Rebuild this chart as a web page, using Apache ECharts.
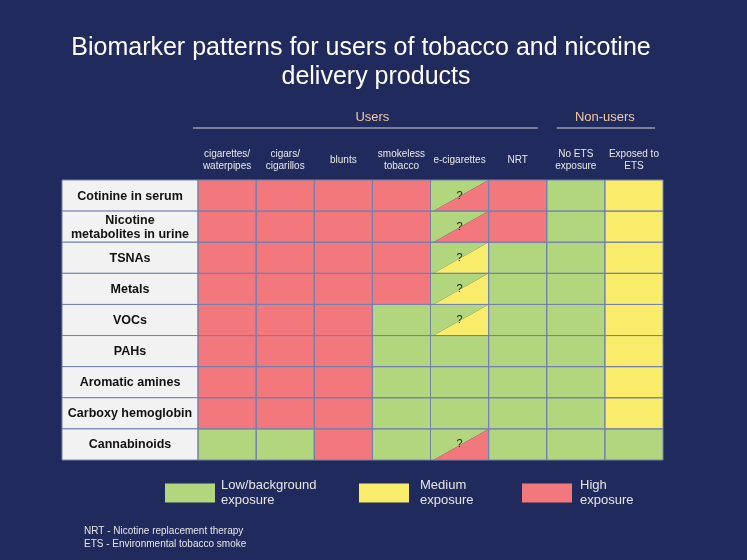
<!DOCTYPE html>
<html>
<head>
<meta charset="utf-8">
<title>Biomarker patterns</title>
<script src="https://cdn.jsdelivr.net/npm/echarts@6/dist/echarts.min.js"></script>
<style>
  html, body { margin: 0; padding: 0; background: #202a5c; }
  #chart { width: 747px; height: 560px; }
</style>
</head>
<body>
<div id="chart"></div>
<script>
// rows of the table (biomarkers)
const rowLabels = ['Cotinine in serum', 'Nicotine\nmetabolites in urine', 'TSNAs', 'Metals', 'VOCs',
  'PAHs', 'Aromatic amines', 'Carboxy hemoglobin', 'Cannabinoids']
// columns (product users / non-users)
const columnLabels = ['cigarettes/\nwaterpipes', 'cigars/\ncigarillos', 'blunts', 'smokeless\ntobacco',
  'e-cigarettes', 'NRT', 'No ETS\nexposure', 'Exposed to\nETS']
const levelCodes = ['L', 'M', 'H']
const levelNames = ['Low/background\nexposure', 'Medium\nexposure', 'High\nexposure']
const levelColors = ['#b1d67e', '#f9ec6b', '#f2787d']
// one code per cell, 'L/H' = uncertain cell (split, marked with ?)
const exposure = [
  ['H', 'H', 'H', 'H', 'L/H', 'H', 'L', 'M'],
  ['H', 'H', 'H', 'H', 'L/H', 'H', 'L', 'M'],
  ['H', 'H', 'H', 'H', 'L/M', 'L', 'L', 'M'],
  ['H', 'H', 'H', 'H', 'L/M', 'L', 'L', 'M'],
  ['H', 'H', 'H', 'L', 'L/M', 'L', 'L', 'M'],
  ['H', 'H', 'H', 'L', 'L', 'L', 'L', 'M'],
  ['H', 'H', 'H', 'L', 'L', 'L', 'L', 'M'],
  ['H', 'H', 'H', 'L', 'L', 'L', 'L', 'M'],
  ['L', 'L', 'H', 'L', 'L/H', 'L', 'L', 'L']
]
const titleLines = ['Biomarker patterns for users of tobacco and nicotine', 'delivery products']
const groupLabels = ['Users', 'Non-users']
const groupSpans = [[0, 5], [6, 7]]
const footnotes = ['NRT - Nicotine replacement therapy', 'ETS - Environmental tobacco smoke']

const font = 'Liberation Sans, Arial, sans-serif'
const lineColor = '#7481b0'

// split each cell into level pieces: 0 = whole cell, 1 = upper-left half, 2 = lower-right half
const levelData = levelCodes.map(() => [])
const frameData = []
const labelData = []
exposure.forEach(function(row, r) {
  labelData.push([0, r])
  row.forEach(function(code, c) {
    frameData.push([c, r])
    const parts = code.split('/')
    if (parts.length === 1) {
      levelData[levelCodes.indexOf(code)].push([c, r, 0])
    } else {
      levelData[levelCodes.indexOf(parts[0])].push([c, r, 1])
      levelData[levelCodes.indexOf(parts[1])].push([c, r, 2])
    }
  })
})

function cellBox(api) {
  const p = api.coord([api.value(0), api.value(1)])
  const s = api.size([1, 1])
  return { x0: p[0] - s[0] / 2, y0: p[1] - s[1] / 2, w: s[0], h: s[1], cx: p[0], cy: p[1] }
}

function renderCell(params, api) {
  const b = cellBox(api)
  const part = api.value(2)
  const fill = api.visual('color')
  const x1 = b.x0 + b.w
  const y1 = b.y0 + b.h
  if (part === 0) {
    return { type: 'rect', shape: { x: b.x0, y: b.y0, width: b.w, height: b.h }, style: { fill: fill } }
  }
  const pts = part === 1
    ? [[b.x0, b.y0], [x1, b.y0], [b.x0 + 3, y1], [b.x0, y1]]
    : [[b.x0 + 3, y1], [x1, b.y0], [x1, y1]]
  const children = [{ type: 'polygon', shape: { points: pts }, style: { fill: fill } }]
  if (part === 2) {
    children.push({
      type: 'text', z2: 5,
      style: { text: '?', x: b.cx, y: b.cy, align: 'center', verticalAlign: 'middle',
        font: '11px ' + font, fill: '#222' }
    })
  }
  return { type: 'group', children: children }
}

function renderFrame(params, api) {
  const b = cellBox(api)
  return { type: 'rect', shape: { x: b.x0, y: b.y0, width: b.w, height: b.h },
    style: { fill: 'none', stroke: lineColor, lineWidth: 1 } }
}

function renderLabel(params, api) {
  const b = cellBox(api)
  return {
    type: 'group',
    children: [
      { type: 'rect', shape: { x: b.x0, y: b.y0, width: b.w, height: b.h },
        style: { fill: '#f2f2f2', stroke: lineColor, lineWidth: 1 } },
      { type: 'text', style: { text: rowLabels[api.value(1)], x: b.cx, y: b.cy + 0.5, align: 'center',
        verticalAlign: 'middle', font: 'bold 12.5px ' + font, lineHeight: 14, fill: '#111' } }
    ]
  }
}

const legendPad = [1, 6, 3]
const legendLeft = [165, 359, 522]
const titleCenter = [361, 376]

const chart = echarts.init(document.getElementById('chart'))
const series = levelNames.map(function(name, i) {
  return {
    name: name, type: 'custom', xAxisIndex: 1, yAxisIndex: 1,
    renderItem: renderCell, itemStyle: { color: levelColors[i] },
    data: levelData[i], silent: true
  }
})
series.push({ name: 'frame', type: 'custom', xAxisIndex: 1, yAxisIndex: 1, z: 3,
  renderItem: renderFrame, data: frameData, silent: true })
series.push({ name: 'labels', type: 'custom', xAxisIndex: 0, yAxisIndex: 0,
  renderItem: renderLabel, data: labelData, silent: true })

chart.setOption({
  backgroundColor: '#202a5c',
  animation: false,
  title: titleLines.map(function(line, i) {
    return {
      text: line, left: titleCenter[i], top: 33 + i * 29, textAlign: 'center', padding: 0,
      textStyle: { color: '#fff', fontSize: 25, fontWeight: 'normal', lineHeight: 30, fontFamily: font }
    }
  }),
  legend: levelNames.map(function(name, i) {
    return {
      data: [name], left: legendLeft[i], top: 478, padding: 0, icon: 'rect', itemWidth: 50, itemHeight: 19,
      selectedMode: false,
      textStyle: { color: '#e6e6e6', fontSize: 13, lineHeight: 15, fontFamily: font,
        padding: [0, 0, 0, legendPad[i]] }
    }
  }),
  grid: [
    { left: 62, top: 180, width: 136, height: 280 },
    { left: 198, top: 180, width: 465, height: 280 }
  ],
  xAxis: [
    { gridIndex: 0, type: 'category', data: [''], show: false },
    {
      gridIndex: 1, type: 'category', data: columnLabels, position: 'top',
      axisLine: { show: false }, axisTick: { show: false }, splitLine: { show: false },
      axisLabel: { interval: 0, color: '#e8e8e8', fontSize: 10, lineHeight: 12, margin: 20,
        verticalAlign: 'middle', fontFamily: font }
    }
  ],
  yAxis: [
    { gridIndex: 0, type: 'category', data: rowLabels, inverse: true, show: false },
    { gridIndex: 1, type: 'category', data: rowLabels, inverse: true, show: false }
  ],
  series: series
})

// group headers above the columns, placed from the x axis
const colW = chart.convertToPixel({ xAxisIndex: 1 }, 1) - chart.convertToPixel({ xAxisIndex: 1 }, 0)
const groupPad = [[-5, 9], [10, 8]]
const graphics = []
groupLabels.forEach(function(label, g) {
  const left = chart.convertToPixel({ xAxisIndex: 1 }, groupSpans[g][0]) - colW / 2
  const right = chart.convertToPixel({ xAxisIndex: 1 }, groupSpans[g][1]) + colW / 2
  graphics.push({
    type: 'text', x: (left + right) / 2, y: 117,
    style: { text: label, align: 'center', verticalAlign: 'middle', font: '13px ' + font, fill: '#f2c9a6' }
  })
  graphics.push({
    type: 'line', shape: { x1: left + groupPad[g][0], y1: 128, x2: right - groupPad[g][1], y2: 128 },
    style: { stroke: '#9c9cb0', lineWidth: 1.5 }
  })
})
graphics.push({
  type: 'text', x: 84, y: 525,
  style: { text: footnotes.join('\n'), font: '10px ' + font, lineHeight: 12.5, fill: '#e6e6e6' }
})
chart.setOption({ graphic: graphics })
</script>
</body>
</html>
